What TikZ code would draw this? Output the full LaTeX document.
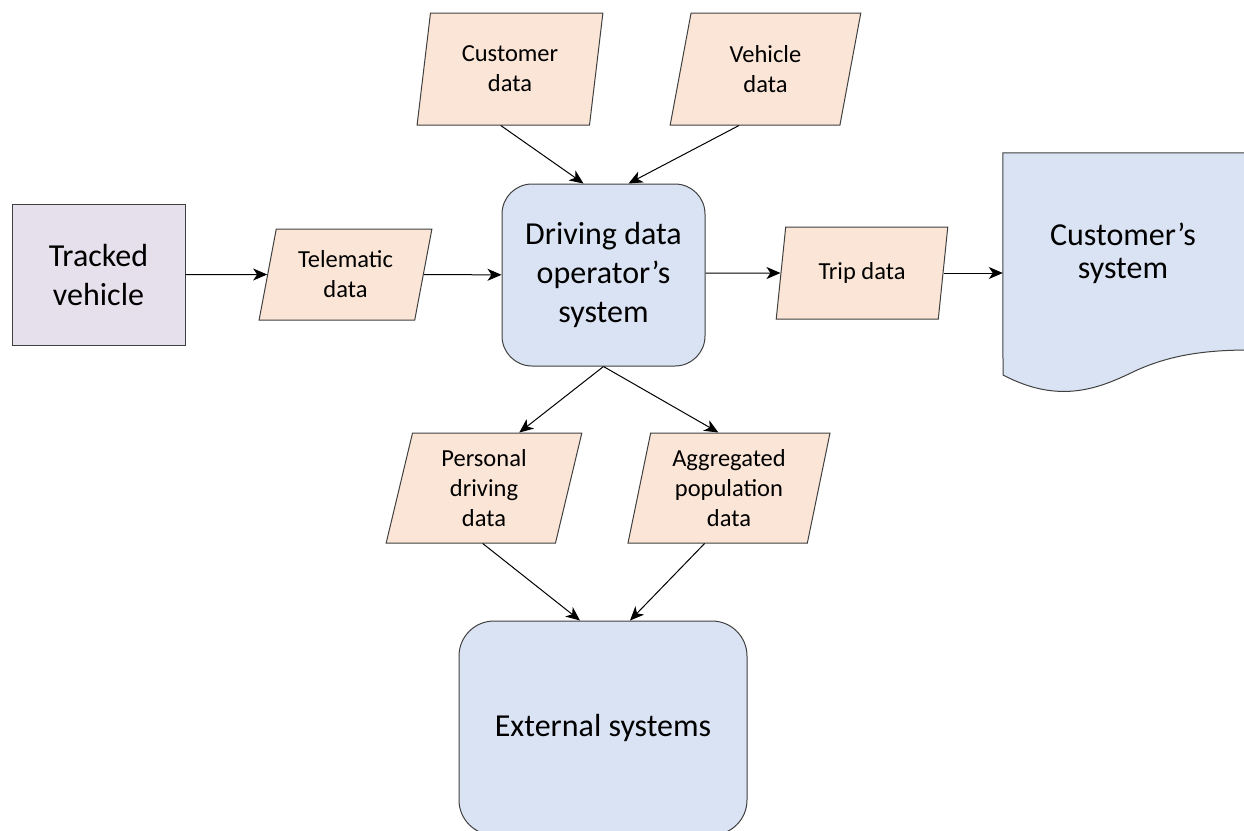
\documentclass[tikz,border=0pt]{standalone}
\usepackage{fontspec}
\setmainfont{Carlito}
\usetikzlibrary{shapes.geometric,arrows.meta,calc}
\definecolor{purplefill}{HTML}{E6E0EC}
\definecolor{peachfill}{HTML}{FBE5D6}
\definecolor{bluefill}{HTML}{DAE3F3}
\definecolor{edge}{HTML}{404040}
\tikzset{
  bigtext/.style={font=\fontsize{32}{39}\selectfont, align=center},
  smalltext/.style={font=\fontsize{24.5}{30}\selectfont, align=center},
  databox/.style={trapezium, trapezium stretches=true, draw=edge, line width=1pt, fill=peachfill, smalltext, inner sep=0pt},
  sysbox/.style={rectangle, rounded corners=30pt, draw=edge, line width=1pt, fill=bluefill, bigtext, inner sep=0pt},
  arr/.style={-{Stealth[length=14pt,width=12pt,inset=4pt]}, line width=1pt, black}
}
\begin{document}
\begin{tikzpicture}[x=1pt,y=-1pt]
\useasboundingbox (0,0) rectangle (1244,830);
\clip (0,0) rectangle (1244,830);
\fill[white] (0,0) rectangle (1244,830);

% Tracked vehicle
\node[rectangle, draw=edge, line width=1pt, fill=purplefill, bigtext, minimum width=173pt, minimum height=141pt] (tv) at (98.5,274.5) {Tracked\\vehicle};

% Driving data operator's system
\node[sysbox, minimum width=203pt, minimum height=182pt] (drv) at (603.5,275) {Driving data\\operator’s\\system};

% External systems
\node[sysbox, rounded corners=35pt, minimum width=288pt, minimum height=214pt] (ext) at (603,728) {External systems};

% Data parallelograms
\node[databox, trapezium left angle=80, trapezium right angle=100, minimum width=186pt, minimum height=112pt] (cust) at (510,69) {Customer\\data};
\node[databox, trapezium left angle=78, trapezium right angle=102, minimum width=191pt, minimum height=112pt] (veh) at (765.5,69) {Vehicle\\data};
\node[databox, trapezium left angle=76, trapezium right angle=104, minimum width=173pt, minimum height=91pt] (tel) at (345.5,274.5) {Telematic\\data};
\node[databox, trapezium left angle=75.5, trapezium right angle=104.5, minimum width=172pt, minimum height=92pt] (trip) at (862,273) {Trip data};
\node[databox, trapezium left angle=78.5, trapezium right angle=101.5, minimum width=196pt, minimum height=110pt] (pers) at (484,488) {Personal\\driving\\data};
\node[databox, trapezium left angle=78, trapezium right angle=102, minimum width=202pt, minimum height=110pt] (agg) at (729,488) {Aggregated\\population\\data};

% Customer's system (document shape)
\node[rectangle, minimum width=241pt, minimum height=222pt, inner sep=0pt] (cs) at (1123.5,264) {};
\draw[draw=edge, line width=1pt, fill=bluefill]
  (cs.north west) -- (1250,153) -- (1250,350)
  .. controls (1205,350) and (1170,355) .. (1135,371)
  .. controls (1100,388) and (1060,405) .. (1003,375) -- cycle;
\node[bigtext, font=\fontsize{32}{33}\selectfont] (cstext) at (1123,253) {Customer’s\\system};

% Connectors
\draw[arr] (tv) -- (tel);
\draw[arr] (tel) -- (drv);
\draw[arr] ($(cust.bottom side)+(-2.5,0)$) -- ($(drv.north)+(-20,0)$);
\draw[arr] ($(veh.bottom side)+(-16,0)$) -- ($(drv.north)+(25,0)$);
\draw[arr] (drv.east |- trip.center) -- (trip);
\draw[arr] (trip.east) -- (trip.east -| cs.west);
\draw[arr] (drv.south) -- ($(pers.top side)+(22,0)$);
\draw[arr] (drv.south) -- ($(agg.top side)+(-22,0)$);
\draw[arr] ($(pers.bottom side)+(12,0)$) -- ($(ext.north)+(-23,0)$);
\draw[arr] ($(agg.bottom side)+(-13,0)$) -- ($(ext.north)+(27,0)$);
\end{tikzpicture}
\end{document}
